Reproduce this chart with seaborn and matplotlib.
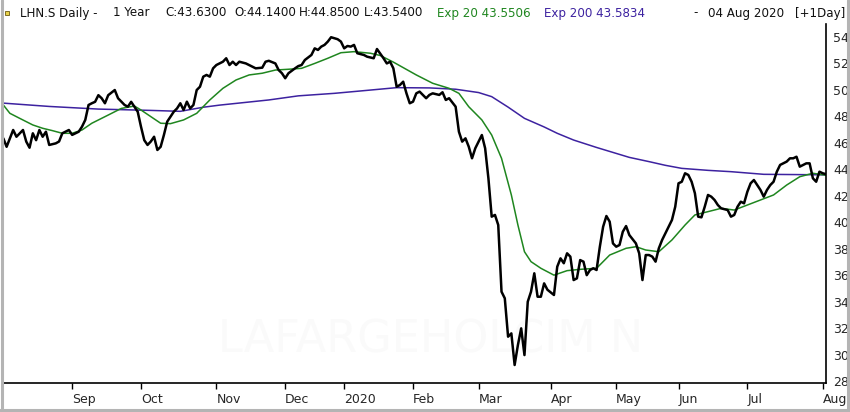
import numpy as np
import pandas as pd
import seaborn as sns
import matplotlib.pyplot as plt
from pandas.tseries.offsets import CustomBusinessDay

# SIX trading calendar for the year shown (Aug 2019 - Aug 2020)
six_holidays = ['2019-12-24', '2019-12-25', '2019-12-26', '2019-12-31',
                '2020-01-01', '2020-01-02', '2020-04-10', '2020-04-13',
                '2020-05-01', '2020-05-21', '2020-06-01']
trade_dates = pd.date_range('2019-08-02', '2020-08-04',
                            freq=CustomBusinessDay(holidays=six_holidays))

# closing prices, keyed by trading day number (0 = 02 Aug 2019)
close_day = [0, 1, 3, 4, 6, 7, 8, 9, 10, 11, 12, 13, 14, 16, 17, 18, 20, 21, 23, 24,
             25, 26, 27, 28, 29, 30, 31, 32, 34, 35, 37, 38, 39, 40, 41, 42, 43, 44, 45, 46,
             47, 48, 49, 50, 51, 52, 53, 54, 55, 56, 57, 58, 59, 60, 61, 62, 63, 64, 65, 67,
             68, 69, 70, 71, 72, 74, 76, 77, 79, 80, 81, 83, 84, 85, 86, 87, 89, 90, 91, 92,
             94, 95, 96, 97, 98, 99, 100, 102, 103, 104, 105, 106, 107, 108, 110, 111, 113, 114, 116, 117,
             118, 119, 120, 121, 122, 123, 124, 125, 126, 127, 129, 130, 131, 133, 134, 135, 136, 138, 139, 140,
             141, 142, 143, 144, 145, 146, 147, 148, 149, 150, 151, 152, 153, 154, 155, 156, 157, 158, 159, 160,
             161, 162, 163, 164, 165, 166, 168, 169, 170, 171, 172, 173, 174, 175, 176, 177, 178, 179, 180, 181,
             182, 183, 184, 185, 186, 187, 188, 189, 190, 191, 193, 194, 195, 196, 197, 198, 199, 200, 201, 202,
             203, 204, 205, 206, 207, 208, 209, 210, 211, 212, 213, 214, 215, 216, 217, 218, 219, 221, 222, 223,
             224, 225, 226, 227, 228, 229, 230, 231, 232, 233, 234, 235, 236, 237, 239, 240, 241, 242, 243, 245,
             246, 247, 248, 249, 250, 251]
close_px = [46.34, 45.70, 46.97, 46.46, 46.97, 46.09, 45.63, 46.72, 46.20, 46.97, 46.46, 46.84, 45.84, 45.96, 46.10, 46.72, 46.97, 46.60, 46.84, 47.22,
            47.73, 48.86, 48.99, 49.10, 49.60, 49.37, 48.99, 49.60, 49.99, 49.37, 48.86, 48.73, 49.10, 48.73, 48.35, 47.22, 46.20, 45.84, 46.10, 46.46,
            45.46, 45.70, 46.60, 47.60, 47.98, 48.35, 48.60, 48.99, 48.48, 49.11, 48.60, 48.86, 49.99, 50.24, 51.00, 51.13, 51.00, 51.63, 51.88, 52.13,
            52.39, 51.88, 52.13, 51.88, 52.13, 52.00, 51.75, 51.63, 51.68, 52.13, 52.20, 52.00, 51.50, 51.26, 50.88, 51.26, 51.63, 51.80, 51.88, 52.26,
            52.64, 53.14, 53.02, 53.27, 53.40, 53.65, 53.98, 53.83, 53.65, 53.14, 53.32, 53.27, 53.40, 52.77, 52.64, 52.51, 52.39, 53.09, 52.39, 52.00,
            52.13, 51.63, 50.24, 50.37, 50.62, 49.74, 48.99, 49.11, 49.74, 49.87, 49.37, 49.62, 49.74, 49.62, 49.82, 49.24, 49.37, 48.73, 46.84, 46.09,
            46.34, 45.71, 44.83, 45.59, 46.09, 46.59, 45.59, 43.32, 40.42, 40.55, 39.79, 34.75, 34.25, 31.35, 31.60, 29.21, 30.72, 31.98, 29.96, 33.99,
            34.75, 36.14, 34.37, 34.37, 35.38, 34.90, 34.50, 36.64, 37.27, 36.90, 37.65, 37.40, 35.63, 35.76, 37.14, 37.02, 36.00, 36.39, 36.52, 36.39,
            38.15, 39.66, 40.47, 40.04, 38.40, 38.15, 38.28, 39.28, 39.71, 39.03, 38.40, 37.65, 35.63, 37.52, 37.52, 37.40, 37.02, 38.03, 38.66, 39.16,
            39.66, 40.17, 41.17, 42.94, 43.06, 43.70, 43.57, 43.06, 42.19, 40.42, 40.37, 41.17, 42.06, 41.93, 41.68, 41.30, 41.05, 40.92, 40.42, 40.55,
            41.17, 41.55, 41.43, 42.30, 42.94, 43.19, 42.81, 42.44, 41.93, 42.44, 42.81, 43.06, 43.82, 44.33, 44.58, 44.83, 44.83, 44.95, 44.20, 44.45,
            44.45, 43.32, 43.06, 43.82, 43.70, 43.63]

# exponential moving averages as drawn by the charting package
ema20_day = [0, 2, 5, 9, 12, 15, 18, 21, 24, 27, 32, 36, 40, 42, 45, 48, 51, 55, 59, 63,
             67, 71, 75, 79, 83, 87, 91, 95, 99, 103, 107, 112, 115, 119, 126, 131, 136, 139, 142, 146,
             149, 152, 155, 157, 159, 161, 164, 168, 172, 176, 181, 185, 190, 193, 196, 200, 204, 208, 211, 215,
             219, 223, 227, 231, 235, 239, 243, 247, 251]
ema20_px = [48.86, 48.23, 47.85, 47.35, 47.10, 46.92, 46.72, 46.72, 46.97, 47.48, 48.10, 48.60, 48.78, 48.48, 47.98, 47.48, 47.45, 47.73, 48.23, 49.24,
            50.12, 50.75, 51.13, 51.26, 51.50, 51.56, 51.63, 52.00, 52.39, 52.81, 52.89, 52.77, 52.60, 52.10, 51.13, 50.50, 50.12, 49.74, 48.73, 47.73,
            46.59, 44.83, 42.06, 39.79, 37.77, 37.02, 36.52, 36.00, 36.34, 36.44, 36.52, 37.52, 38.03, 38.15, 37.90, 37.77, 38.66, 39.79, 40.55, 40.80,
            41.05, 40.92, 41.30, 41.68, 42.06, 42.81, 43.44, 43.70, 43.55]

ema200_day = [0, 14, 29, 45, 54, 61, 66, 81, 90, 101, 109, 120, 130, 138, 145, 149, 154, 159, 165, 169,
              174, 181, 187, 191, 197, 202, 207, 215, 222, 232, 242, 251]
ema200_px = [49.00, 48.75, 48.55, 48.45, 48.38, 48.69, 48.85, 49.24, 49.55, 49.74, 49.92, 50.17, 50.15, 50.05, 49.80, 49.49, 48.70, 47.85, 47.20, 46.72,
             46.21, 45.65, 45.20, 44.90, 44.58, 44.30, 44.07, 43.92, 43.82, 43.62, 43.60, 43.58]

y_ticks = list(range(28, 56, 2))

W, H = 850, 412
sns.set_style('white')
plt.rcParams['font.family'] = ['DejaVu Sans']

fig = plt.figure(figsize=(W / 100, H / 100), dpi=100)
ax = fig.add_axes([3 / W, 29 / H, 823 / W, 359 / H])

# faint watermark behind the lines
ax.text(0.52, 0.12, 'LAFARGEHOLCIM N', transform=ax.transAxes, ha='center', va='center',
        fontsize=32, color='#fafafa', zorder=0)

green = '#1f861f'
purple = '#3d22a0'

ema200_df = pd.DataFrame({'day': ema200_day, 'price': ema200_px})
ema20_df = pd.DataFrame({'day': ema20_day, 'price': ema20_px})
close_df = pd.DataFrame({'day': close_day, 'price': close_px})

sns.lineplot(data=ema200_df, x='day', y='price', color=purple, lw=1.1, ax=ax, estimator=None, sort=False)
sns.lineplot(data=ema20_df, x='day', y='price', color=green, lw=1.1, ax=ax, estimator=None, sort=False)
sns.lineplot(data=close_df, x='day', y='price', color='black', lw=1.8, ax=ax, estimator=None, sort=False)

ax.set_xlim(-0.1, 251)
ax.set_ylim(27.85, 54.98)
ax.set_xlabel('')
ax.set_ylabel('')

# month ticks at the first trading day of each month
months = pd.Series(trade_dates).dt.to_period('M')
first_idx = months.drop_duplicates().index[1:]
tick_labels = [trade_dates[i].strftime('%Y') if trade_dates[i].month == 1 else trade_dates[i].strftime('%b')
               for i in first_idx]
ax.set_xticks(list(first_idx))
ax.set_xticklabels(tick_labels, ha='left')
ax.tick_params(axis='x', direction='out', length=4.5, width=1, color='black',
               labelsize=9, pad=2.5, bottom=True)

ax.yaxis.tick_right()
ax.set_yticks(y_ticks)
ax.set_yticklabels([str(v) for v in y_ticks])
ax.tick_params(axis='y', length=0, labelsize=9, pad=5, right=True, left=False)

for side in ['top', 'left']:
    ax.spines[side].set_visible(False)
for side in ['right', 'bottom']:
    ax.spines[side].set_color('black')
    ax.spines[side].set_linewidth(1.2)

# window frame
frame_col = '#b4b4b4'
fig.add_artist(plt.Line2D([1.5 / W, 1.5 / W], [0, 1], color=frame_col, lw=2.2))
fig.add_artist(plt.Line2D([1 - 2 / W, 1 - 2 / W], [0, 1], color=frame_col, lw=2.2))
fig.add_artist(plt.Line2D([0, 1], [2 / H, 2 / H], color=frame_col, lw=2.2))

# header line
def header(x, s, color='#111111'):
    fig.text(x / W, 1 - 13 / H, s, fontsize=8.6, color=color, va='center', ha='left')

fig.add_artist(plt.Rectangle((5 / W, 1 - 15 / H), 4 / W, 4 / H, facecolor='#e8d24a',
                             edgecolor='#6b5a10', lw=0.6))
header(20, 'LHN.S Daily -')
header(113, '1 Year')
header(165, 'C:43.6300')
header(234, 'O:44.1400')
header(299, 'H:44.8500')
header(364, 'L:43.5400')
header(437, 'Exp 20 43.5506', green)
header(544, 'Exp 200 43.5834', purple)
header(693, '-')
header(708, '04 Aug 2020')
header(795, '[+1Day]')

fig.savefig('out.png', dpi=100)
